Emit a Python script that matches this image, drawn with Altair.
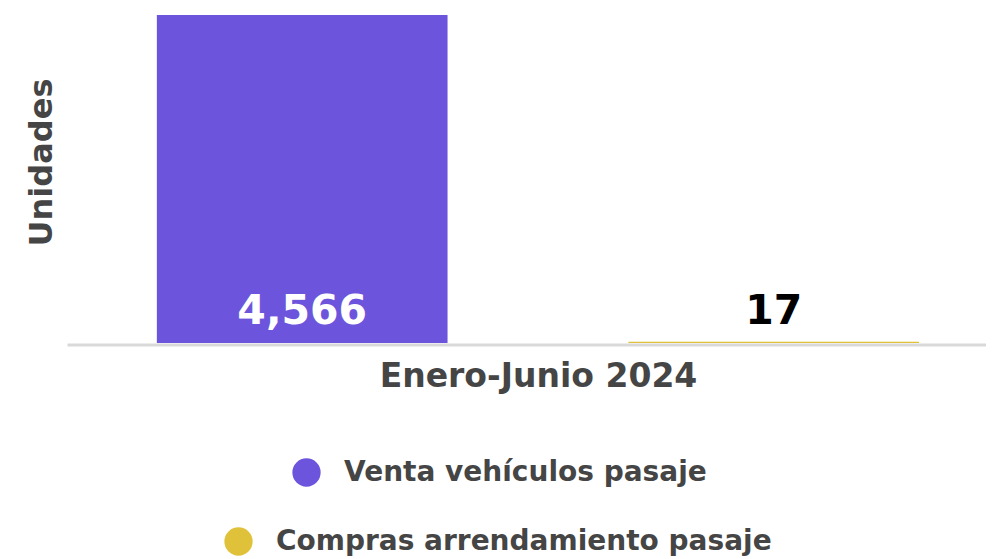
import altair as alt
import pandas as pd

periodo = ["Enero-Junio 2024"]
series = ["Venta vehículos pasaje", "Compras arrendamiento pasaje"]
valores = [4566, 17]
colores = ["#6C54DC", "#E0C23A"]

df = pd.DataFrame({
    "periodo": periodo * len(series),
    "serie": series,
    "valor": valores,
})

FONT = "DejaVu Sans"
TXT = "#454545"

x_enc = alt.X(
    "periodo:N",
    title=None,
    scale=alt.Scale(paddingInner=0, paddingOuter=0),
    axis=alt.Axis(
        labelFontSize=33, labelFont=FONT, labelFontWeight="bold", labelColor=TXT,
        labelAngle=0, labelPadding=16, labelOffset=12, labelLimit=700,
        ticks=False, domainColor="#D9D9D9", domainWidth=3, offset=1.5,
    ),
)
xo_enc = alt.XOffset(
    "serie:N",
    scale=alt.Scale(domain=series, paddingInner=0.3835, paddingOuter=0.1663, align=0.573),
)
y_enc = alt.Y(
    "valor:Q",
    title="Unidades",
    scale=alt.Scale(domain=[0, 4566], nice=False),
    axis=alt.Axis(
        labels=False, ticks=False, domain=False, grid=False,
        titleFontSize=32, titleFont=FONT, titleFontWeight="bold", titleColor=TXT,
        titlePadding=9, titleY=147,
    ),
)

base = alt.Chart(df).encode(x=x_enc, xOffset=xo_enc, y=y_enc)

def legend_for(lx, ly):
    return alt.Legend(
        orient="none", legendX=lx, legendY=ly, title=None,
        symbolType="circle", symbolSize=800, symbolStrokeWidth=0,
        labelFontSize=28, labelFont=FONT, labelFontWeight="bold", labelColor=TXT,
        labelOffset=23, labelLimit=800,
    )

bar1 = base.transform_filter(alt.datum.serie == series[0]).mark_bar().encode(
    color=alt.Color("serie:N", scale=alt.Scale(domain=[series[0]], range=[colores[0]]),
                    legend=legend_for(225, 443))
)
bar2 = base.transform_filter(alt.datum.serie == series[1]).mark_bar().encode(
    color=alt.Color("serie:N", scale=alt.Scale(domain=[series[1]], range=[colores[1]]),
                    legend=legend_for(157, 512))
)

labels = base.transform_calculate(cero="0").mark_text(
    font=FONT, fontWeight="bold", fontSize=41, baseline="alphabetic", dy=-19,
).encode(
    y=alt.Y("cero:Q", title="Unidades"),
    text=alt.Text("valor:Q", format=","),
    color=alt.condition(alt.datum.valor > 1000, alt.value("#FFFFFF"), alt.value("#000000")),
)

chart = alt.layer(bar1, bar2, labels).resolve_scale(color="independent").properties(
    width=919, height=328, padding={"left": 17, "top": 7, "right": 0, "bottom": 0},
).configure_view(stroke=None)

chart.save("out.html", embed_options={"renderer": "svg", "actions": False})
